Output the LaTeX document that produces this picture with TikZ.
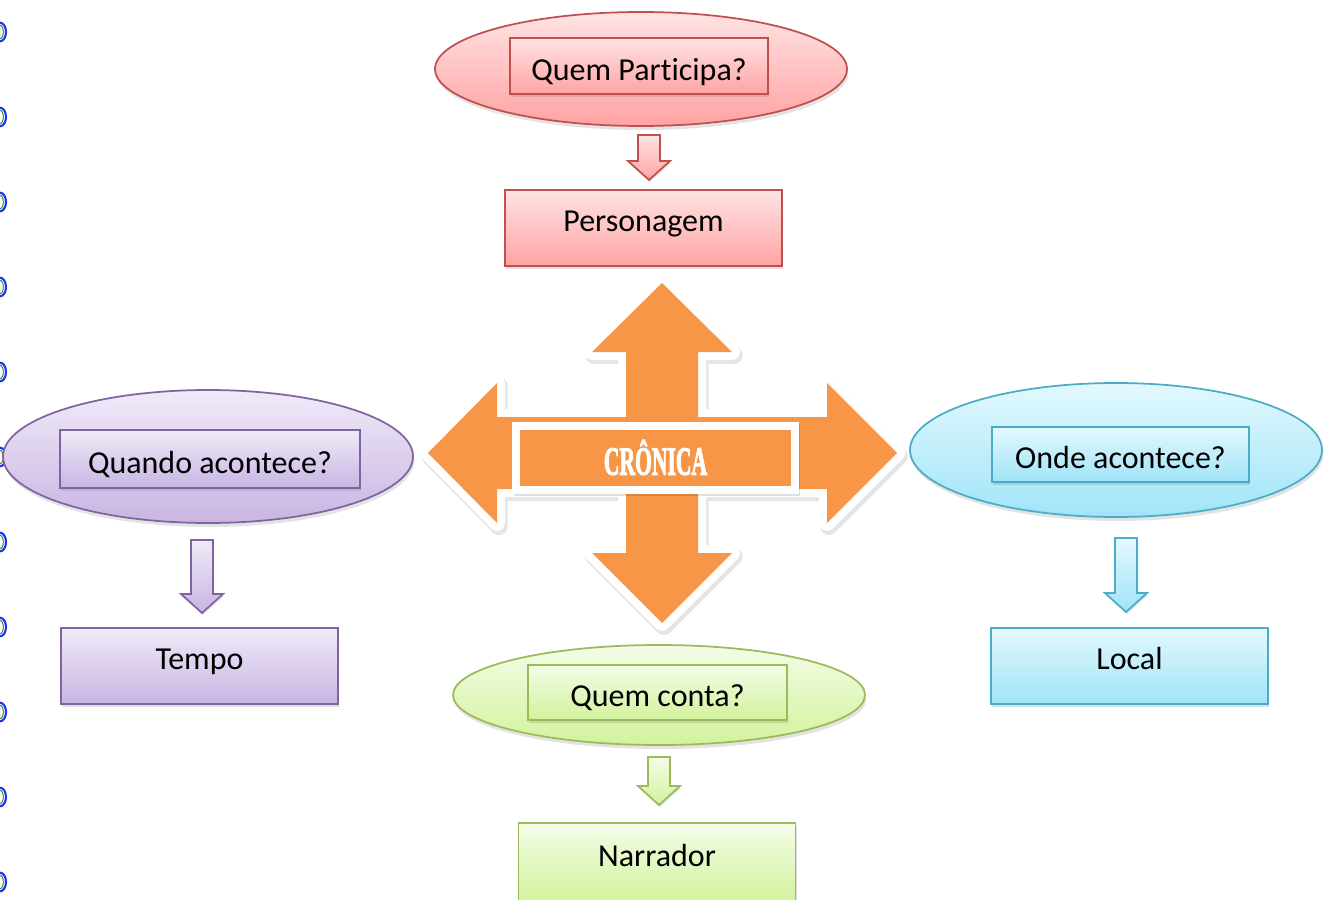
\documentclass[tikz,border=0pt]{standalone}
\usepackage{fontspec}
\setmainfont{Carlito}[Ligatures=CommonOff]
\newfontface\titlefont{Liberation Serif Bold}[FakeBold=3]
\usetikzlibrary{shapes.geometric,shadows,calc}
\definecolor{cred}{HTML}{C0504D}
\definecolor{credtop}{HTML}{FFE3E3}
\definecolor{credbot}{HTML}{FFA3A3}
\definecolor{cpur}{HTML}{8064A2}
\definecolor{cpurtop}{HTML}{F0EAF8}
\definecolor{cpurbot}{HTML}{C8B5E3}
\definecolor{cblu}{HTML}{4BACC6}
\definecolor{cblutop}{HTML}{E3F8FD}
\definecolor{cblubot}{HTML}{A0E4F8}
\definecolor{cgrn}{HTML}{9BBB59}
\definecolor{cgrntop}{HTML}{F4FCE8}
\definecolor{cgrnbot}{HTML}{D2F39C}
\definecolor{corange}{HTML}{F79646}
\definecolor{cmarkblue}{HTML}{2233EE}
\definecolor{cmarkgreen}{HTML}{2E8B3A}
\newcommand{\blockdown}[5]{%
  \coordinate (#1s) at (#3,#4);
  \coordinate (#1t) at (#3,#5);
  \draw[#2, line width=1.3pt, line join=miter,
        drop shadow={opacity=0.2, shadow xshift=0.8pt, shadow yshift=-1.5pt}]
    ($(#1s)+(-11,0)$) -- ($(#1s)+(11,0)$) -- ($(#1t)+(11,-19)$) -- ($(#1t)+(21,-19)$)
    -- (#1t) -- ($(#1t)+(-21,-19)$) -- ($(#1t)+(-11,-19)$) -- cycle;}
\tikzset{
  ell/.style={ellipse, line width=1.3pt, inner sep=0pt,
    drop shadow={opacity=0.22, shadow xshift=1pt, shadow yshift=-3pt}},
  qbox/.style={rectangle, line width=1.3pt, inner sep=0pt,
    font=\fontsize{24}{28}\selectfont, text height=21pt, text depth=0pt,
    drop shadow={opacity=0.25, shadow xshift=1pt, shadow yshift=-2.5pt}},
  bigbox/.style={rectangle, line width=1.3pt, inner sep=0pt,
    minimum width=207.75pt, minimum height=57pt,
    font=\fontsize{24}{28}\selectfont, text height=12pt, text depth=7.5pt,
    drop shadow={opacity=0.25, shadow xshift=1pt, shadow yshift=-2.5pt}},
  redsty/.style={draw=cred, top color=credtop, bottom color=credbot},
  pursty/.style={draw=cpur, top color=cpurtop, bottom color=cpurbot},
  blusty/.style={draw=cblu, top color=cblutop, bottom color=cblubot},
  grnsty/.style={draw=cgrn, top color=cgrntop, bottom color=cgrnbot},
  bindmark/.style={ellipse, draw=cmarkblue, line width=1.6pt, inner sep=0pt,
    minimum width=9pt, minimum height=14pt},
  bindinner/.style={ellipse, draw=cmarkgreen, line width=0.7pt, inner sep=0pt,
    minimum width=5pt, minimum height=10pt},
}
\begin{document}
\begin{tikzpicture}[x=0.75pt, y=-0.75pt]
\useasboundingbox (0,0) rectangle (1327,899);
\fill[white] (0,0) rectangle (1327,899);

% binding marks at left edge
\foreach \i in {0,...,10} {
  \node[bindmark] (m\i) at (0,{32+85*\i}) {};
  \node[bindinner] (mi\i) at (0,{32+85*\i}) {};
}

% ---- top (red)
\node[ell, redsty, minimum width=309pt, minimum height=85.5pt] (redell) at (641,69) {};
\node[qbox, redsty, minimum width=193.5pt, minimum height=42pt] (redq) at (639,66) {Quem Participa?};
\blockdown{ra}{redsty}{649}{135}{180}
\node[bigbox, redsty] (redb) at (643.5,228) {Personagem};

% ---- left (purple)
\node[ell, pursty, minimum width=307.5pt, minimum height=99.75pt] (purell) at (208,456.5) {};
\node[qbox, pursty, minimum width=225pt, minimum height=43.5pt] (purq) at (210,459) {Quando acontece?};
\blockdown{pa}{pursty}{202}{540}{613}
\node[bigbox, pursty] (purb) at (199.5,666) {Tempo};

% ---- right (blue)
\node[ell, blusty, minimum width=309pt, minimum height=100.5pt] (bluell) at (1116,450) {};
\node[qbox, blusty, minimum width=192.75pt, minimum height=41.25pt] (bluq) at (1120.5,454.5) {Onde acontece?};
\blockdown{ba}{blusty}{1126}{538}{612}
\node[bigbox, blusty] (blub) at (1129.5,666) {Local};

% ---- bottom (green)
\node[ell, grnsty, minimum width=309pt, minimum height=75pt] (grnell) at (659,695) {};
\node[qbox, grnsty, minimum width=194.25pt, minimum height=41.25pt] (grnq) at (657.5,692.5) {Quem conta?};
\blockdown{ga}{grnsty}{659}{757}{805}
\node[bigbox, grnsty, minimum height=60pt] (grnb) at (657,863) {Narrador};

% ---- central cross arrow
\begin{scope}[shift={(662,453)}]
\path[fill=corange,
  preaction={draw=black, opacity=0.1, line width=13pt, line join=round,
             transform canvas={xshift=1.5pt, yshift=-2.5pt}},
  preaction={draw=white, line width=12pt, line join=round}]
  (0,-170) -- (70,-101) -- (36,-101) -- (36,-36) -- (165,-36) -- (165,-70)
  -- (235,0) -- (165,70) -- (165,36) -- (36,36) -- (36,100) -- (70,100)
  -- (0,170) -- (-70,100) -- (-36,100) -- (-36,36) -- (-165,36) -- (-165,70)
  -- (-234,0) -- (-165,-70) -- (-165,-36) -- (-36,-36) -- (-36,-101) -- (-70,-101)
  -- cycle;
\end{scope}
\node[rectangle, fill=corange, draw=white, line width=6pt, inner sep=0pt,
  minimum width=209pt, minimum height=48pt,
  preaction={draw=black, opacity=0.12, line width=6pt,
             transform canvas={xshift=1.2pt, yshift=-2pt}}]
  (cron) at (655.5,457.5)
  {\scalebox{0.54}[1]{\titlefont\fontsize{30}{32}\selectfont\color{white}CRÔNICA}};
\end{tikzpicture}
\end{document}
